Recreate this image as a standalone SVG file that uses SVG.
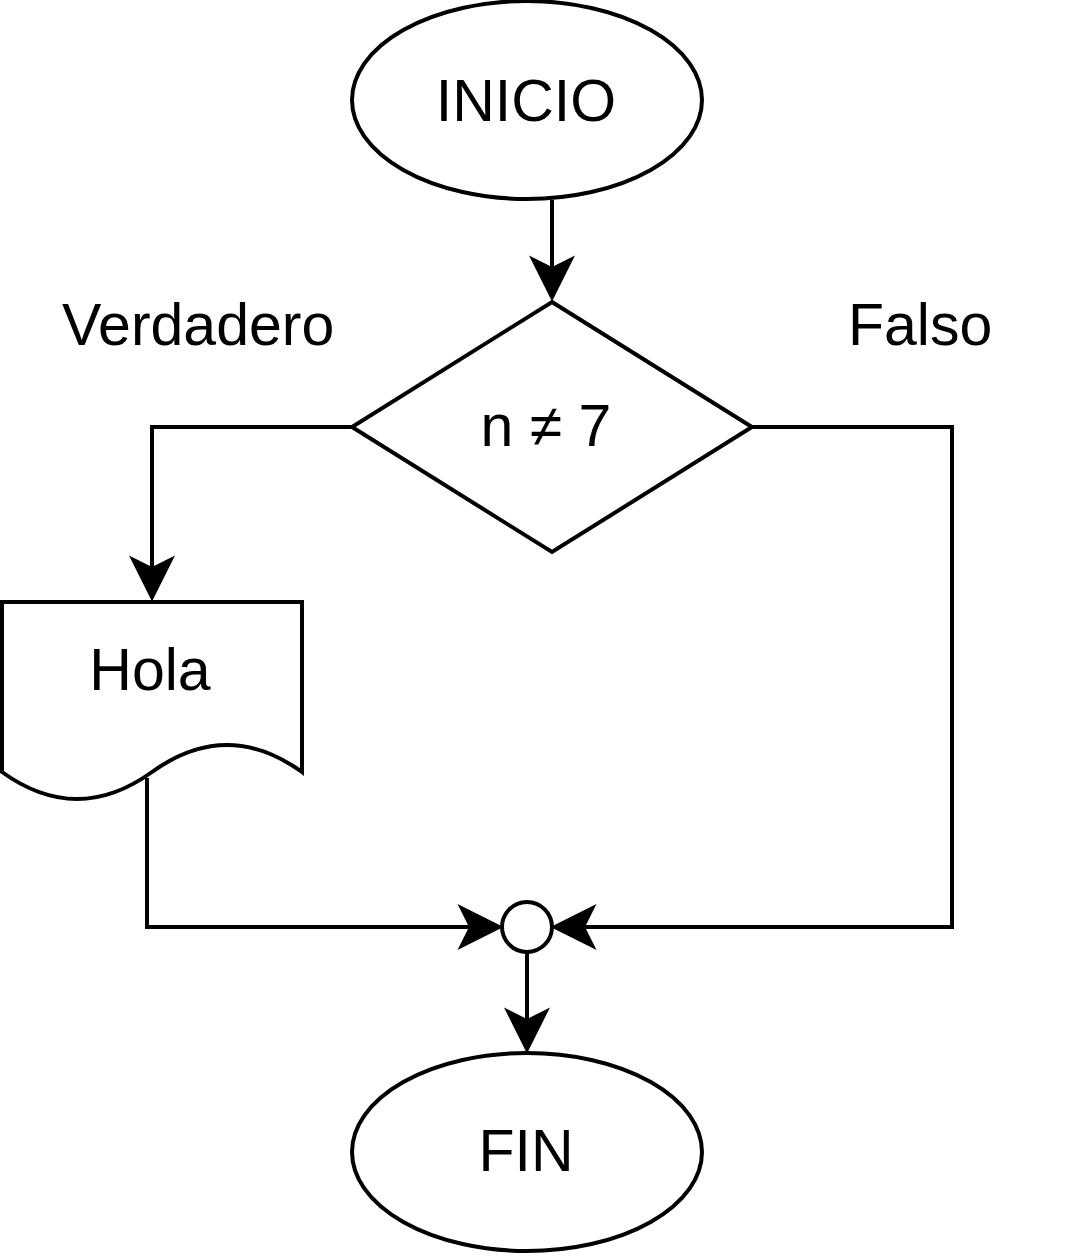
<svg xmlns="http://www.w3.org/2000/svg" width="1075" height="1260" viewBox="0 0 1075 1260">
<style>
.shape{fill:#fff;stroke:#000;stroke-width:4}
.edge{fill:none;stroke:#000;stroke-width:4}
.lbl{font-family:"Liberation Sans",Arial,sans-serif;font-size:59px;fill:#000}
.c{text-anchor:middle}
</style>
<defs>
<marker id="arr" markerUnits="userSpaceOnUse" markerWidth="46" markerHeight="46" viewBox="0 0 44 44" refX="11" refY="22" orient="auto" overflow="visible">
<path d="M44,22 L0,0 L11,22 L0,44 Z" fill="#000"/>
</marker>
</defs>
<rect width="1075" height="1260" fill="#fff"/>
<g id="connectors">
<path class="edge" d="M552,200 V267" marker-end="url(#arr)"/>
<path class="edge" d="M352,427 H152 V567" marker-end="url(#arr)"/>
<path class="edge" d="M147,778 V927 H469" marker-end="url(#arr)"/>
<path class="edge" d="M752,427 H952 V927 H585" marker-end="url(#arr)"/>
<path class="edge" d="M527,952 V1019" marker-end="url(#arr)"/>
</g>
<g id="inicio">
<ellipse class="shape" cx="527" cy="100" rx="175" ry="99"/>
<text class="lbl c" x="526" y="121">INICIO</text>
</g>
<g id="decision">
<path class="shape" d="M552,302 L752,427 L552,552 L352,427 Z"/>
<text class="lbl c" x="546" y="446">n ≠ 7</text>
</g>
<g id="label-verdadero">
<text class="lbl" x="62" y="345">Verdadero</text>
</g>
<g id="label-falso">
<text class="lbl" x="848" y="345">Falso</text>
</g>
<g id="hola">
<path class="shape" d="M2,602 H302 V772 Q227,718 152,772 Q77,826 2,772 Z"/>
<text class="lbl c" x="150" y="690">Hola</text>
</g>
<g id="junction">
<circle class="shape" cx="527" cy="927" r="25"/>
</g>
<g id="fin">
<ellipse class="shape" cx="527" cy="1152" rx="175" ry="99"/>
<text class="lbl c" x="526" y="1171">FIN</text>
</g>
</svg>
